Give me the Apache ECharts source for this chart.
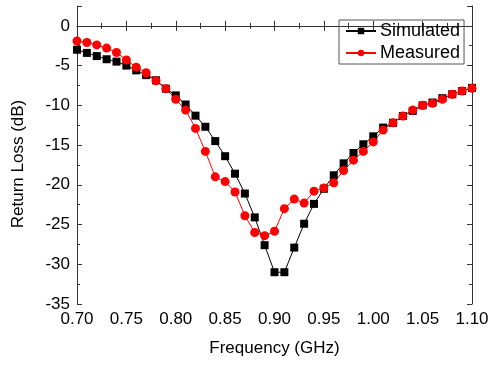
<!DOCTYPE html>
<html><head><meta charset="utf-8">
<script src="https://cdn.jsdelivr.net/npm/echarts@6/dist/echarts.min.js"></script>
<style>html,body{margin:0;padding:0;background:#fff}#c{width:490px;height:365px}</style>
</head><body><div id="c"></div>
<script>
const freq = [0.70,0.71,0.72,0.73,0.74,0.75,0.76,0.77,0.78,0.79,0.80,0.81,0.82,0.83,0.84,0.85,0.86,0.87,0.88,0.89,0.90,0.91,0.92,0.93,0.94,0.95,0.96,0.97,0.98,0.99,1.00,1.01,1.02,1.03,1.04,1.05,1.06,1.07,1.08,1.09,1.10];
const simulated = [-3.0,-3.4,-3.8,-4.2,-4.5,-5.0,-5.6,-6.2,-6.85,-7.9,-8.75,-9.9,-11.3,-12.7,-14.5,-16.4,-18.6,-21.1,-24.1,-27.6,-31.0,-31.0,-27.9,-24.9,-22.4,-20.5,-18.8,-17.3,-16.0,-14.9,-13.9,-12.8,-12.2,-11.35,-10.7,-10.0,-9.65,-9.1,-8.6,-8.2,-7.8];
const measured = [-1.9,-2.1,-2.4,-2.8,-3.35,-4.3,-5.2,-5.9,-6.9,-7.9,-9.25,-10.6,-12.9,-15.8,-19.0,-19.6,-20.9,-23.9,-26.0,-26.4,-25.85,-23.0,-21.8,-22.3,-20.8,-20.4,-19.75,-18.2,-16.9,-15.8,-14.6,-13.1,-12.2,-11.35,-10.6,-10.0,-9.75,-9.25,-8.6,-8.2,-7.85];
const seriesNames = ['Simulated','Measured'];
const xTitle = 'Frequency (GHz)';
const yTitle = 'Return Loss (dB)';

const font = 'Liberation Sans, Arial, sans-serif';
const axisColor = '#333';
const chart = echarts.init(document.getElementById('c'), null, {renderer:'canvas'});
const pair = arr => freq.map((f,i)=>[f,arr[i]]);
const baseAxisLine = {show:true, lineStyle:{color:axisColor, width:1}};
chart.setOption({
  animation:false,
  backgroundColor:'#fff',
  grid:{left:77, right:18, top:6, bottom:61, containLabel:false, outerBoundsMode:'none'},
  legend:{
    left:339, top:20, orient:'vertical',
    data:seriesNames,
    borderColor:'#555', borderWidth:1, padding:[2,4,2,6], itemGap:4,
    itemWidth:30, itemHeight:8,
    textStyle:{fontFamily:font, fontSize:18, color:'#000', padding:[0,0,0,-1]}
  },
  xAxis:[{
    type:'value', min:0.7, max:1.1, interval:0.05,
    name:xTitle, nameLocation:'middle', nameGap:36,
    nameTextStyle:{fontFamily:font, fontSize:17, color:'#000'},
    axisLine:baseAxisLine,
    axisTick:{show:true, inside:true, length:5, lineStyle:{color:axisColor}},
    minorTick:{show:true, splitNumber:2, length:3, lineStyle:{color:axisColor}},
    axisLabel:{fontFamily:font, fontSize:17, color:'#000', margin:7, formatter:v=>v.toFixed(2)},
    splitLine:{show:false}
  },{
    type:'value', min:0.7, max:1.1, interval:0.05, position:'top',
    axisLine:baseAxisLine,
    axisTick:{show:true, inside:true, length:5, lineStyle:{color:axisColor}},
    minorTick:{show:true, splitNumber:2, length:3, lineStyle:{color:axisColor}},
    axisLabel:{show:false}, splitLine:{show:false}
  }],
  yAxis:[{
    type:'value', min:-35, max:2.5, interval:5,
    name:yTitle, nameLocation:'middle', nameGap:50, nameRotate:90,
    nameTextStyle:{fontFamily:font, fontSize:17, color:'#000', padding:[0,18,0,0]},
    axisLine:baseAxisLine,
    axisTick:{show:true, inside:true, length:5, lineStyle:{color:axisColor}},
    minorTick:{show:true, splitNumber:2, length:3, lineStyle:{color:axisColor}},
    axisLabel:{fontFamily:font, fontSize:17, color:'#000', margin:7, showMaxLabel:false,
      formatter:v=> (Math.abs(v%5)<1e-9 ? String(v) : '')},
    splitLine:{show:false}
  },{
    type:'value', min:-35, max:2.5, interval:5, position:'right',
    axisLine:baseAxisLine,
    axisTick:{show:true, inside:true, length:5, lineStyle:{color:axisColor}},
    minorTick:{show:true, splitNumber:2, length:3, lineStyle:{color:axisColor}},
    axisLabel:{show:false}, splitLine:{show:false}
  }],
  series:[{
    name:seriesNames[0], type:'line', data:pair(simulated),
    symbol:'rect', symbolSize:8, showAllSymbol:true,
    lineStyle:{color:'#000', width:1}, itemStyle:{color:'#000'}
  },{
    name:seriesNames[1], type:'line', data:pair(measured),
    symbol:'circle', symbolSize:9, showAllSymbol:true,
    lineStyle:{color:'#ff0000', width:1}, itemStyle:{color:'#ff0000'}
  }]
});
</script></body></html>
